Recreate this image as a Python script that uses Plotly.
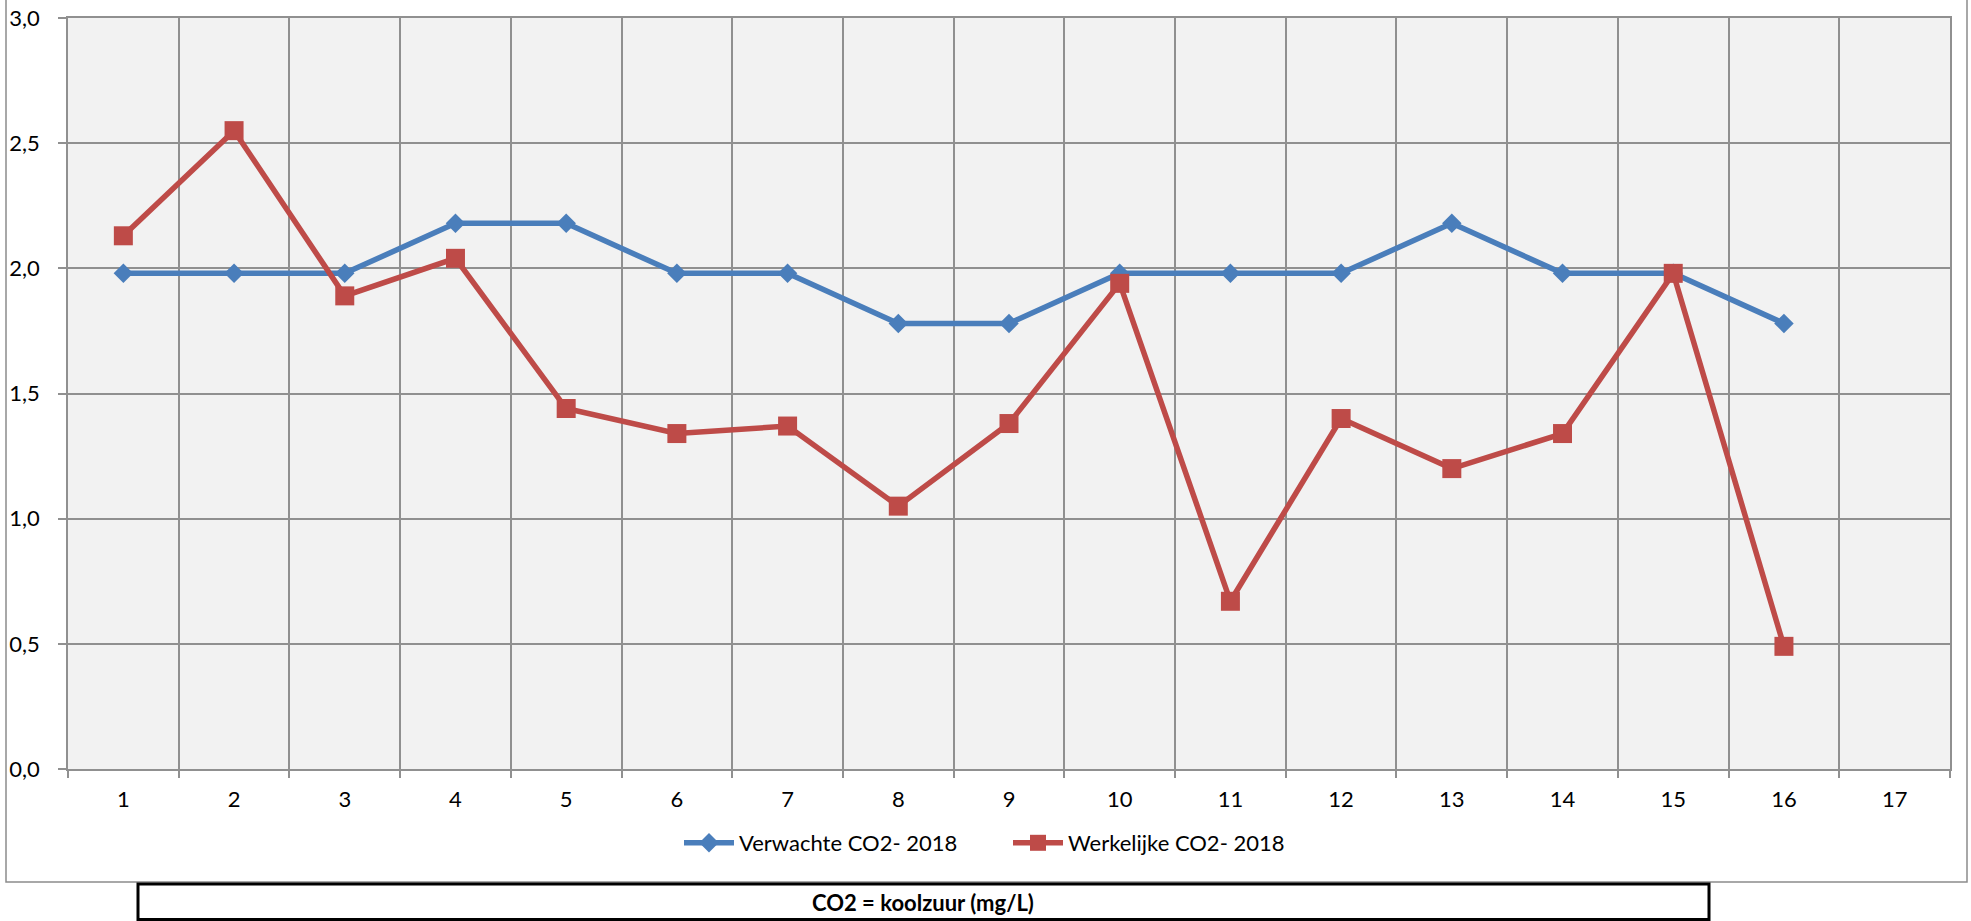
import plotly.graph_objects as go

# dagnummers / meetpunten
categories = [str(i) for i in range(1, 18)]

verwacht = [1.98, 1.98, 1.98, 2.18, 2.18, 1.98, 1.98, 1.78, 1.78,
            1.98, 1.98, 1.98, 2.18, 1.98, 1.98, 1.78]
werkelijk = [2.13, 2.55, 1.89, 2.04, 1.44, 1.34, 1.37, 1.05, 1.38,
             1.94, 0.67, 1.40, 1.20, 1.34, 1.98, 0.49]

y_ticks = [0.0, 0.5, 1.0, 1.5, 2.0, 2.5, 3.0]

blue = '#4A7EBB'
red = '#BE4B48'
grid = '#909090'
font = 'Lato'

W, H = 1971, 921
L, R, T, B = 68, 1950, 18, 769   # plot area in pixels


def px(x):
    return (x - L) / (R - L)


def py(y):
    return (B - y) / (B - T)


fig = go.Figure()
fig.add_trace(go.Scatter(
    x=categories[:len(verwacht)], y=verwacht, name='Verwachte CO2- 2018',
    mode='lines+markers',
    line=dict(color=blue, width=5.5),
    marker=dict(symbol='diamond', size=15, color=blue),
))
fig.add_trace(go.Scatter(
    x=categories[:len(werkelijk)], y=werkelijk, name='Werkelijke CO2- 2018',
    mode='lines+markers',
    line=dict(color=red, width=5.5),
    marker=dict(symbol='square', size=19, color=red),
))

fig.update_layout(
    width=W, height=H,
    margin=dict(l=L, r=W - R, t=T, b=H - B, autoexpand=False),
    paper_bgcolor='white',
    plot_bgcolor='#F2F2F2',
    separators=',.',
    font=dict(family=font, size=22, color='black'),
    showlegend=True,
    legend=dict(orientation='h', x=px(1008), xanchor='center',
                y=py(843), yanchor='middle', font=dict(size=22),
                itemwidth=50, entrywidth=264, bgcolor='rgba(0,0,0,0)'),
    shapes=[
        # chart border
        dict(type='rect', xref='paper', yref='paper',
             x0=px(6), x1=px(1967), y0=py(882), y1=py(-2),
             line=dict(color='#8C8C8C', width=1.5), layer='below'),
        # caption box
        dict(type='rect', xref='paper', yref='paper',
             x0=px(138), x1=px(1709), y0=py(884), y1=py(919.5),
             line=dict(color='black', width=3)),
    ],
    annotations=[
        dict(text='<b>CO2 = koolzuur (mg/L)</b>', xref='paper', yref='paper',
             x=px(923), y=py(902), xanchor='center', yanchor='middle',
             showarrow=False, font=dict(size=22, family=font)),
    ],
)

fig.update_xaxes(
    type='category', categoryorder='array', categoryarray=categories,
    range=[-0.5, 16.5], tickson='boundaries', automargin=False,
    showgrid=True, gridcolor=grid, gridwidth=1.8,
    showline=True, linecolor=grid, linewidth=1.8, mirror=True,
    ticks='outside', ticklen=7, tickcolor=grid, tickwidth=1.8,
    ticklabelstandoff=10, zeroline=False,
)
fig.update_yaxes(
    range=[0, 3], tickvals=y_ticks, tickformat='.1f', automargin=False,
    showgrid=True, gridcolor=grid, gridwidth=1.8,
    showline=True, linecolor=grid, linewidth=1.8, mirror=True,
    ticks='outside', ticklen=8, tickcolor=grid, tickwidth=1.8,
    ticklabelstandoff=14, zeroline=False,
)

fig.write_html('out.html', config={'displayModeBar': False},
               post_script="document.body.style.margin='0';")
